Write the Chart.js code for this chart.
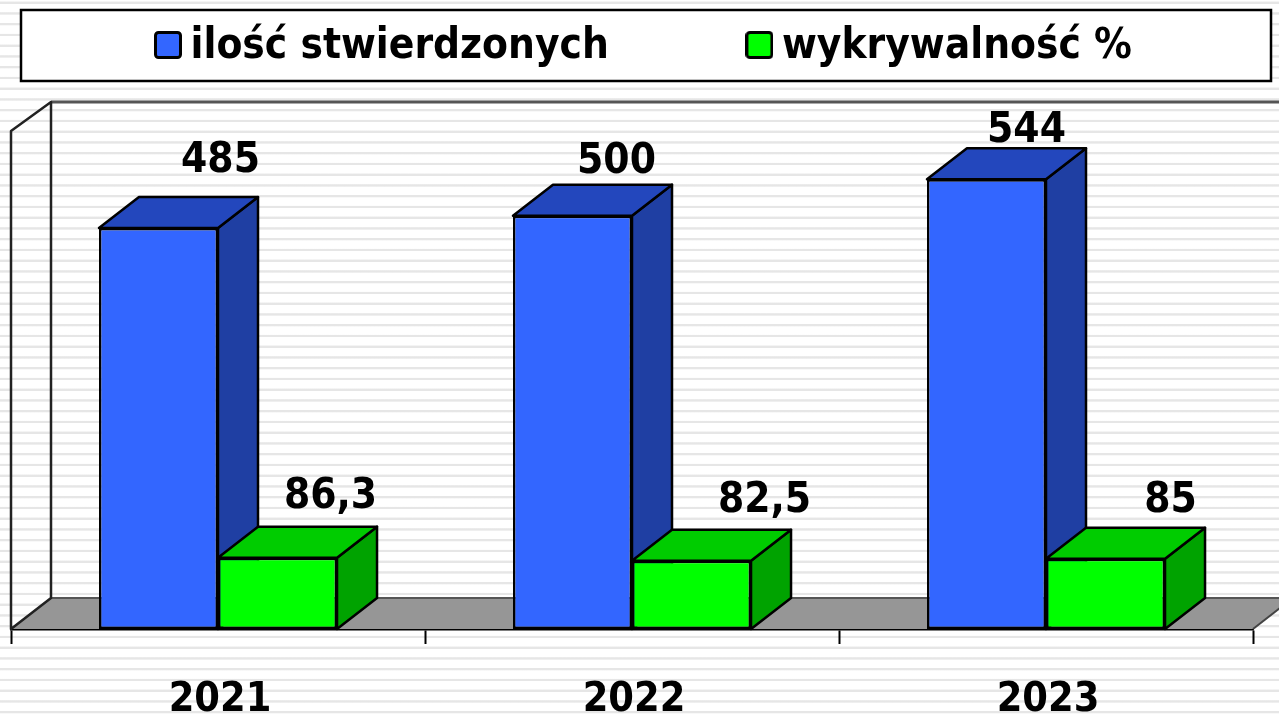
<!DOCTYPE html>
<html>
<head>
<meta charset="utf-8">
<script src="https://cdn.jsdelivr.net/npm/chart.js@4"></script>
<style>
html,body{margin:0;padding:0;width:1279px;height:717px;overflow:hidden;
background:repeating-linear-gradient(to bottom,#fff 0,#fff 1.2px,#e6e6e6 1.9px,#e6e6e6 3.5px,#fff 4.2px,#fff 10.75px);}
canvas{display:block}
</style>
</head>
<body>
<canvas id="c" width="1279" height="717"></canvas>
<script>
const categories = ['2021','2022','2023'];
const seriesNames = ['ilość stwierdzonych','wykrywalność %'];
const stwierdzone = [485,500,544];
const wykrywalnosc = [86.3,82.5,85];
const seriesColors = ['#3366FF','#00FF00'];
const FONT_FAMILY = '"DejaVu Sans Condensed","DejaVu Sans",sans-serif';
const DX = 40, DY = 31;
const labelShift = [
  [[62,-67],[44,-54],[40,-48]],
  [[53,-61],[73,-60],[65,-58]]
];
const faces = [
  {top:'#2347BD', side:'#1F3FA3'},
  {top:'#00CC00', side:'#00A300'}
];
function poly(ctx,pts,fill,stroke,lw){
  ctx.beginPath();
  pts.forEach((p,i)=>i?ctx.lineTo(p[0],p[1]):ctx.moveTo(p[0],p[1]));
  ctx.closePath();
  if(fill){ctx.fillStyle=fill;ctx.fill();}
  if(stroke){ctx.strokeStyle=stroke;ctx.lineWidth=lw;ctx.lineJoin='round';ctx.stroke();}
}
function swatch(color){
  const cv=document.createElement('canvas');cv.width=28;cv.height=32;
  const g=cv.getContext('2d');
  g.beginPath();g.roundRect(1.5,1.5,25,25,3);
  g.fillStyle=color;g.fill();
  g.strokeStyle='#000';g.lineWidth=3;g.stroke();
  return cv;
}
const scene3d = {
  id:'scene3d',
  afterLayout(chart){
    const lg = chart.legend, pad = lg.options.labels.padding;
    lg.left = 166.5 - pad;
    lg.right = 1800;
    lg.top = 26 - pad;
  },
  beforeDraw(chart){
    const ctx = chart.ctx;
    ctx.save();
    ctx.fillStyle='#fff';ctx.fillRect(21,10,1250,71);
    ctx.strokeStyle='#000';ctx.lineWidth=2.5;ctx.strokeRect(21,10,1250,71);
    ctx.restore();
  },
  beforeDatasetsDraw(chart){
    const ctx = chart.ctx, a = chart.chartArea;
    const top = a.top-2, b = a.bottom;
    ctx.save();
    poly(ctx,[[a.left,b],[a.left+DX,b-DY],[a.right+DX,b-DY],[a.right,b]],'#969696');
    ctx.strokeStyle='#555';ctx.lineWidth=2;
    ctx.beginPath();ctx.moveTo(a.left+DX,b-DY);ctx.lineTo(1279,b-DY);ctx.stroke();
    ctx.beginPath();ctx.moveTo(a.right,b);ctx.lineTo(a.right+DX,b-DY);ctx.strokeStyle='#444';ctx.stroke();
    ctx.strokeStyle='#555';ctx.lineWidth=3;
    ctx.beginPath();ctx.moveTo(a.left+DX,top-DY+2);ctx.lineTo(1279,top-DY+2);ctx.stroke();
    poly(ctx,[[a.left,b],[a.left,top],[a.left+DX,top-DY+2],[a.left+DX,b-DY]],null,'#222',2.5);
    ctx.restore();
    ctx.save();
    chart.data.datasets.forEach((ds,d)=>{
      chart.getDatasetMeta(d).data.forEach(el=>{
        const p = el.getProps(['x','y','base','width'],true);
        const l=p.x-p.width/2, r=p.x+p.width/2, t=p.y, bs=p.base;
        poly(ctx,[[r,t],[r+DX,t-DY],[r+DX,bs-DY],[r,bs]],faces[d].side,'#000',2.5);
        poly(ctx,[[l,t],[l+DX,t-DY],[r+DX,t-DY],[r,t]],faces[d].top,'#000',2.5);
      });
    });
    ctx.restore();
  },
  afterDatasetsDraw(chart){
    const ctx = chart.ctx;
    ctx.save();
    ctx.fillStyle='#000';
    ctx.font='bold 42px '+FONT_FAMILY;
    ctx.textAlign='center';ctx.textBaseline='middle';
    chart.data.datasets.forEach((ds,d)=>{
      chart.getDatasetMeta(d).data.forEach((el,i)=>{
        const p = el.getProps(['x','y'],true);
        const s = labelShift[d][i];
        ctx.fillText(String(ds.data[i]).replace('.',','),p.x+s[0],p.y+s[1]);
      });
    });
    ctx.restore();
  }
};
new Chart(document.getElementById('c'),{
  type:'bar',
  data:{
    labels:categories,
    datasets:[
      {label:seriesNames[0],data:stwierdzone,backgroundColor:seriesColors[0],borderColor:'#000',borderWidth:2.5,borderSkipped:false},
      {label:seriesNames[1],data:wykrywalnosc,backgroundColor:seriesColors[1],borderColor:'#000',borderWidth:2.5,borderSkipped:false}
    ]
  },
  plugins:[scene3d],
  options:{
    responsive:false,animation:false,
    layout:{padding:{left:11,right:26,top:8,bottom:0}},
    datasets:{bar:{categoryPercentage:0.575,barPercentage:1}},
    scales:{
      x:{
        offset:true,
        grid:{display:true,offset:true,drawOnChartArea:false,drawTicks:true,tickLength:15,tickColor:'#000',tickWidth:2,color:'#000'},
        border:{display:true,color:'#000',width:2.5},
        ticks:{color:'#000',padding:32,labelOffset:2,maxRotation:0,font:{family:FONT_FAMILY,size:41,weight:'bold'}},
        afterFit(s){s.height=88;}
      },
      y:{display:false,min:0,max:600}
    },
    plugins:{
      tooltip:{enabled:false},
      legend:{
        position:'top',align:'start',maxHeight:125,
        labels:{usePointStyle:true,pointStyleWidth:3,boxHeight:28,padding:149,color:'#000',
          font:{family:FONT_FAMILY,size:42,weight:'bold'},
          generateLabels(chart){
            return Chart.defaults.plugins.legend.labels.generateLabels(chart).map((it,i)=>{
              it.pointStyle=swatch(seriesColors[i]);
              return it;
            });
          }}
      }
    }
  }
});
</script>
</body>
</html>
